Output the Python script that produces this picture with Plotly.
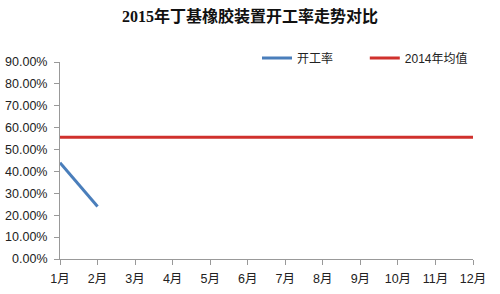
import plotly.graph_objects as go

months = ["1月", "2月", "3月", "4月", "5月", "6月", "7月", "8月", "9月", "10月", "11月", "12月"]
rate_2015 = [0.44, 0.24]
avg_2014 = [0.556] * 12
y_ticks = [0, 0.1, 0.2, 0.3, 0.4, 0.5, 0.6, 0.7, 0.8, 0.9]

font_cjk = "Liberation Sans, Noto Sans CJK SC, sans-serif"

fig = go.Figure()
fig.add_trace(go.Scatter(x=months[:len(rate_2015)], y=rate_2015, mode="lines",
                         name="开工率", line=dict(color="#4A7EBB", width=3),
                         legend="legend"))
fig.add_trace(go.Scatter(x=months, y=avg_2014, mode="lines",
                         name="2014年均值", line=dict(color="#D0312D", width=3),
                         legend="legend2"))

leg_common = dict(orientation="h", yanchor="middle", y=1.02, xanchor="left",
                  font=dict(family=font_cjk, size=12, color="#222"),
                  itemwidth=30, bgcolor="rgba(0,0,0,0)")

fig.update_layout(
    width=500, height=294,
    margin=dict(l=60, r=27, t=62, b=35),
    paper_bgcolor="white", plot_bgcolor="white",
    title=dict(text="<b>2015年丁基橡胶装置开工率走势对比</b>", x=0.5, xanchor="center",
               y=0.945, yanchor="middle",
               font=dict(family="Liberation Serif, Noto Sans CJK SC, serif", size=16, color="#111")),
    showlegend=True,
    legend=dict(x=0.477, **leg_common),
    legend2=dict(x=0.738, **leg_common),
    font=dict(family=font_cjk, size=12, color="#222"),
)
fig.update_xaxes(type="category", categoryorder="array", categoryarray=months,
                 range=[0, 11], showgrid=False, showline=True, linecolor="#999",
                 linewidth=1, ticks="outside", ticklen=5, tickcolor="#999",
                 ticklabelstandoff=3, automargin=False,
                 tickfont=dict(size=12.5, color="#222"), zeroline=False)
fig.update_yaxes(range=[0, 0.9], tickvals=y_ticks, tickformat=".2%",
                 showgrid=False, showline=True, linecolor="#999", linewidth=1,
                 ticks="outside", ticklen=5, tickcolor="#999",
                 ticklabelstandoff=4, automargin=False,
                 tickfont=dict(size=12.5, color="#222"), zeroline=False)

fig.write_html("out.html")
